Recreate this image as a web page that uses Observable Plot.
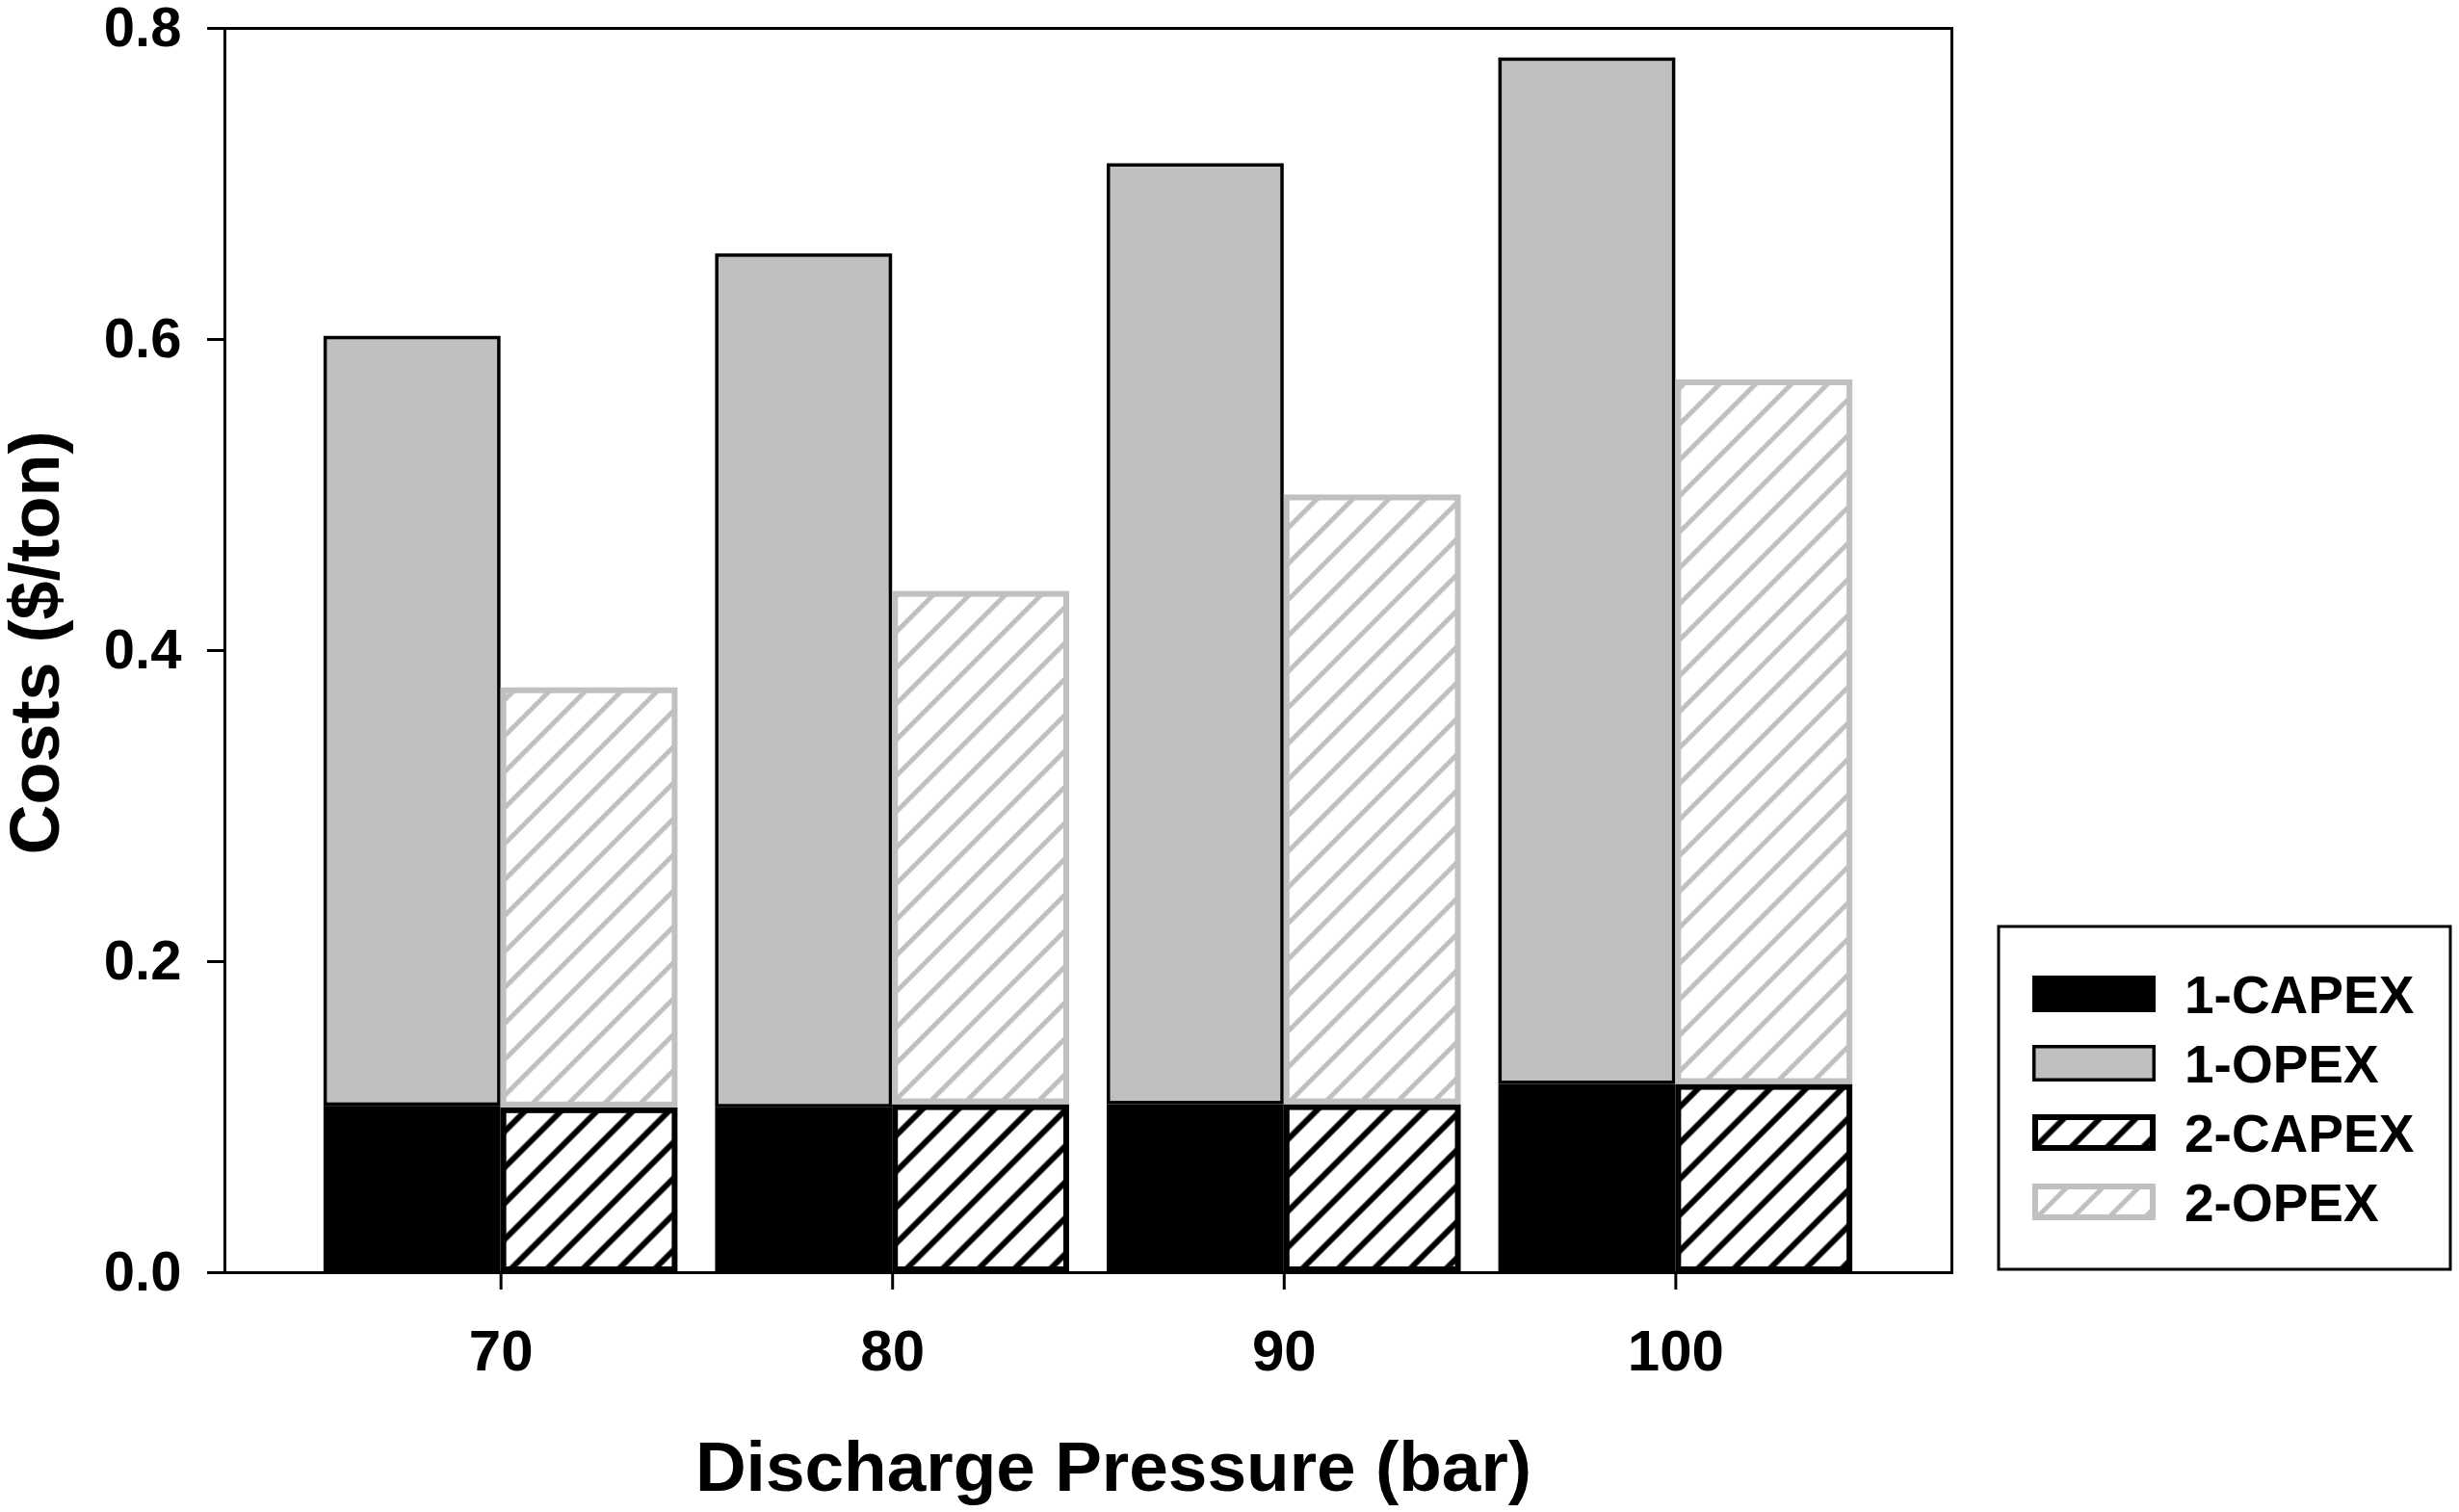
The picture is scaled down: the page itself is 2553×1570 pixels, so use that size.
<!DOCTYPE html>
<html>
<head>
<meta charset="utf-8">
<script src="https://cdn.jsdelivr.net/npm/d3@7"></script>
<script src="https://cdn.jsdelivr.net/npm/@observablehq/plot@0.6"></script>
<style>
  html, body { margin: 0; padding: 0; background: #fff; }
  #chart svg { display: block; }
</style>
</head>
<body>
<div id="chart"></div>
<script>
// ---- Data ----
const pressures = [70, 80, 90, 100];
const capex1 = [0.107, 0.106, 0.108, 0.121];
const opex1  = [0.495, 0.549, 0.605, 0.660];
const capex2 = [0.106, 0.108, 0.108, 0.121];
const opex2  = [0.270, 0.330, 0.392, 0.453];
const seriesNames = ["1-CAPEX", "1-OPEX", "2-CAPEX", "2-OPEX"];
const yTicks = [0, 0.2, 0.4, 0.6, 0.8];
const xLabel = "Discharge Pressure (bar)";
const yLabel = "Costs ($/ton)";

// ---- Styles ----
const grey = "#c0c0c0";
const styles = {
  "1-CAPEX": {fill: "black", stroke: "black", sw: 0},
  "1-OPEX":  {fill: grey, stroke: "black", sw: 3.5},
  "2-CAPEX": {fill: "url(#hatchK)", stroke: "black", sw: 6},
  "2-OPEX":  {fill: "url(#hatchG)", stroke: grey, sw: 6}
};
const barWidth = 4.52; // width of one bar, in pressure units

// ---- Build table ----
const rows = [];
pressures.forEach((p, i) => {
  rows.push({series: "1-CAPEX", x1: p - barWidth, x2: p, y1: 0, y2: capex1[i]});
  rows.push({series: "1-OPEX",  x1: p - barWidth, x2: p, y1: capex1[i], y2: capex1[i] + opex1[i]});
  rows.push({series: "2-CAPEX", x1: p, x2: p + barWidth, y1: 0, y2: capex2[i]});
  rows.push({series: "2-OPEX",  x1: p, x2: p + barWidth, y1: capex2[i], y2: capex2[i] + opex2[i]});
});

const barMarks = seriesNames.map(name => {
  const s = styles[name];
  return Plot.rect(rows.filter(r => r.series === name), {
    x1: "x1", x2: "x2", y1: "y1", y2: "y2",
    fill: s.fill,
    stroke: s.sw ? s.stroke : "none",
    strokeWidth: s.sw,
    inset: s.sw / 2
  });
});

const fontFamily = "'Liberation Sans', Arial, sans-serif";

const chart = Plot.plot({
  width: 2553,
  height: 1570,
  marginLeft: 233,
  marginRight: 527,
  marginTop: 29,
  marginBottom: 249,
  x: {domain: [62.95, 107.05]},
  y: {domain: [0, 0.8]},
  style: {fontFamily, background: "white", color: "black", overflow: "visible"},
  marks: [
    ...barMarks,
    Plot.frame({stroke: "black", strokeWidth: 3}),
    Plot.axisY({ticks: yTicks, tickSize: 18, tickPadding: 27, tickFormat: d3.format(".1f"),
      fontSize: 58, fontWeight: "bold", strokeWidth: 3, label: null}),
    Plot.axisX({ticks: pressures, tickSize: 18, tickPadding: 41, tickFormat: d => String(d),
      fontSize: 60, fontWeight: "bold", strokeWidth: 3, label: null}),
    Plot.text([yLabel], {text: d => d, frameAnchor: "left", rotate: -90, dx: -173, dy: -8,
      fontSize: 72, fontWeight: "bold", lineAnchor: "bottom", textAnchor: "middle"}),
    Plot.text([xLabel], {text: d => d, frameAnchor: "bottom", dx: 26, dy: 226,
      fontSize: 73, fontWeight: "bold", lineAnchor: "bottom", textAnchor: "middle"})
  ]
});

document.getElementById("chart").appendChild(chart);

// ---- Hatch patterns ----
const svg = d3.select(chart);
const defs = svg.insert("defs", ":first-child");
function hatch(id, color, lw) {
  const S = 26.4;
  const p = defs.append("pattern")
    .attr("id", id)
    .attr("patternUnits", "userSpaceOnUse")
    .attr("width", S).attr("height", S)
    .attr("patternTransform", "rotate(45)");
  p.append("rect").attr("width", S).attr("height", S).attr("fill", "white");
  p.append("line").attr("x1", S / 2).attr("x2", S / 2).attr("y1", -1).attr("y2", S + 1)
    .attr("stroke", color).attr("stroke-width", lw);
}
hatch("hatchK", "black", 6);
hatch("hatchG", grey, 5);

// ---- Legend (inside the right margin) ----
const lg = svg.append("g").attr("font-family", fontFamily).attr("text-anchor", "start");
lg.append("rect").attr("x", 2075).attr("y", 962).attr("width", 469).attr("height", 356)
  .attr("fill", "white").attr("stroke", "black").attr("stroke-width", 3);
seriesNames.forEach((name, i) => {
  const s = styles[name];
  const cy = 1032 + i * 72;
  const x = 2110, w = 128, h = 38;
  lg.append("rect")
    .attr("x", x + s.sw / 2).attr("y", cy - h / 2 + s.sw / 2)
    .attr("width", w - s.sw).attr("height", h - s.sw)
    .attr("fill", s.fill)
    .attr("stroke", s.sw ? s.stroke : "none")
    .attr("stroke-width", s.sw);
  lg.append("text").attr("x", 2268).attr("y", cy).attr("dy", "0.36em")
    .attr("text-anchor", "start")
    .attr("font-size", 55).attr("font-weight", "bold").attr("fill", "black").text(name);
});
</script>
</body>
</html>
